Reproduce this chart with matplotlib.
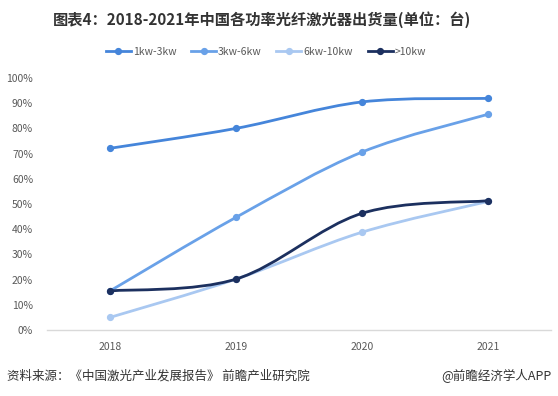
import numpy as np
import matplotlib
matplotlib.use('Agg')
import matplotlib.pyplot as plt
from matplotlib.path import Path
from matplotlib.patches import PathPatch
from matplotlib.lines import Line2D

plt.rcParams['font.family'] = ['Noto Sans CJK SC', 'DejaVu Sans']

# data (share of shipments, %)
years = ['2018', '2019', '2020', '2021']
series_names = ['1kw-3kw', '3kw-6kw', '6kw-10kw', '>10kw']
s_1_3 = [72.1, 80.0, 90.5, 91.9]
s_3_6 = [15.5, 44.7, 70.6, 85.6]
s_6_10 = [5.0, 20.2, 38.8, 51.0]
s_10_up = [15.5, 20.2, 46.3, 51.3]
series_colors = ['#4585DA', '#69A1E8', '#A9C8F1', '#1C305F']


def smooth_path(xs, ys):
    """Excel-like smoothed line: cubic Bezier segments through every point."""
    pts = np.column_stack([xs, ys]).astype(float)
    ext = np.vstack([pts[0], pts, pts[-1]])
    verts = [tuple(pts[0])]
    codes = [Path.MOVETO]
    for i in range(len(pts) - 1):
        p0, p1, p2, p3 = ext[i], ext[i + 1], ext[i + 2], ext[i + 3]
        c1 = p1 + (p2 - p0) / 6.0
        c2 = p2 - (p3 - p1) / 6.0
        verts += [tuple(c1), tuple(c2), tuple(p2)]
        codes += [Path.CURVE4] * 3
    return Path(verts, codes)


fig = plt.figure(figsize=(5.58, 3.96), dpi=100)
ax = fig.add_axes([47 / 558, 1 - 330 / 396, 504 / 558, 252 / 396])

x = np.arange(len(years))
all_series = [s_1_3, s_3_6, s_6_10, s_10_up]
handles = []
for i, (name, vals, col) in enumerate(zip(series_names, all_series, series_colors)):
    patch = PathPatch(smooth_path(x, vals), facecolor='none', edgecolor=col,
                      lw=2.0, capstyle='round', joinstyle='round', zorder=3 + i)
    ax.add_patch(patch)
    ax.plot(x, vals, 'o', color=col, ms=4.2, zorder=3 + i)
    handles.append(Line2D([], [], color=col, lw=2.0, marker='o', ms=4.2))

ax.set_xlim(-0.5, len(years) - 0.5)
ax.set_ylim(0, 100)
ax.set_xticks(x)
ax.set_xticklabels(years)
ax.set_yticks(np.arange(0, 101, 10))
ax.set_yticklabels([f'{v}%' for v in range(0, 101, 10)])
ax.tick_params(axis='both', length=0, labelsize=7.5, colors='#595959')
ax.tick_params(axis='y', pad=10)
ax.tick_params(axis='x', pad=9)
for side in ['top', 'right', 'left']:
    ax.spines[side].set_visible(False)
ax.spines['bottom'].set_color('#D9D9D9')
ax.spines['bottom'].set_linewidth(1.0)

fig.text(262 / 558, 1 - 20 / 396, '图表4：2018-2021年中国各功率光纤激光器出货量(单位：台)',
         ha='center', va='center', fontsize=11, fontweight='bold', color='#333333')

fig.legend(handles, series_names, loc='center', bbox_to_anchor=(266 / 558, 1 - 52 / 396),
           ncol=4, frameon=False, fontsize=7.5, handlelength=2.4, handletextpad=0.2,
           columnspacing=1.4, labelcolor='#595959')

fig.text(7 / 558, 1 - 376 / 396, '资料来源：《中国激光产业发展报告》 前瞻产业研究院',
         ha='left', va='center', fontsize=9, color='#333333')
fig.text(552 / 558, 1 - 376 / 396, '@前瞻经济学人APP',
         ha='right', va='center', fontsize=9, color='#333333')

fig.savefig('out.png', dpi=100)
